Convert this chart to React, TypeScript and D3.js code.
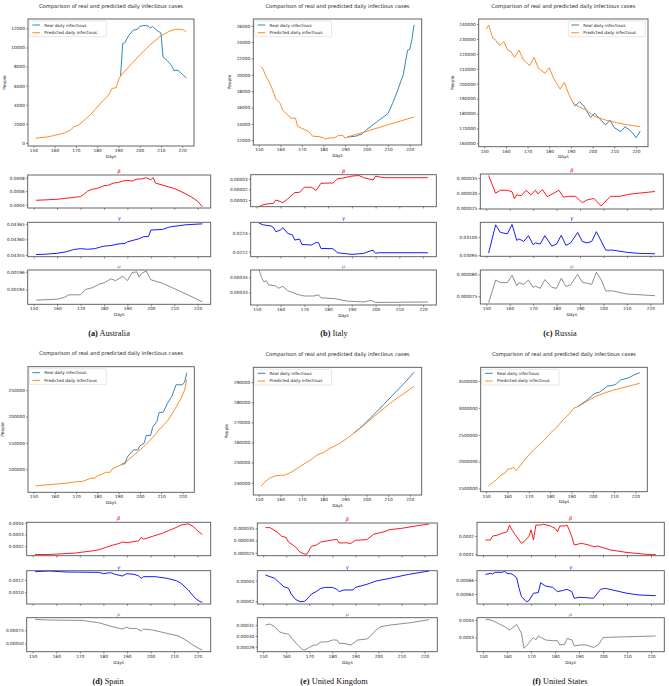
import React, { useEffect, useRef } from "react";
import * as d3 from "d3";

type Pt = [number, number];

// ---- data (day, value) ----
const DAY_LIM = [147.45, 225.55];
const DAY_TICKS = ["150", "160", "170", "180", "190", "200", "210", "220"];

// Australia
const ausPred: Pt[] = [[151,500],[153,560],[156,620],[158,700],[160,800],[163,950],[165,1100],[167,1300],[168,1450],[169,1700],[171,1850],[173,2200],[175,2600],[177,3000],[179,3500],[181,4000],[183,4500],[185,4900],[186,5300],[187,5700],[189,5800],[190,6600],[191,7000],[195,8000],[200,9200],[205,10300],[210,11200],[214,11700],[217,11900],[219,11900],[221,11800],[222,11600]];
const ausReal: Pt[] = [[191,7000],[192,10400],[193,10500],[195,11300],[197,11800],[199,11900],[200,12200],[202,12300],[204,12250],[205,12000],[206,12200],[208,11800],[210,11500],[211,9000],[213,8600],[215,8100],[216,7600],[218,7600],[220,7200],[222,6800]];
const ausBeta: Pt[] = [[151,0.000465],[160,0.00048],[165,0.0005],[170,0.00052],[171,0.00054],[173,0.0006],[175,0.00063],[177,0.00064],[180,0.00068],[182,0.00069],[184,0.00072],[186,0.00073],[188,0.00075],[190,0.00076],[192,0.00075],[194,0.00078],[196,0.00078],[198,0.0008],[200,0.00077],[201,0.0008],[202,0.00072],[205,0.00069],[210,0.00064],[215,0.00056],[218,0.0005],[220,0.00045],[222,0.00037]];
const ausGamma: Pt[] = [[151,0.043551],[155,0.043552],[160,0.043555],[164,0.04356],[167,0.043567],[170,0.04357],[173,0.043568],[176,0.04357],[178,0.043574],[180,0.043578],[183,0.04358],[186,0.043585],[189,0.043587],[190,0.043592],[193,0.043598],[195,0.043602],[197,0.043609],[199,0.043609],[200,0.04363],[205,0.043632],[208,0.04364],[215,0.043647],[222,0.04365]];
const ausMu: Pt[] = [[151,0.001928],[160,0.001929],[163,0.001931],[165,0.001934],[170,0.001934],[172,0.00194],[175,0.001942],[178,0.001946],[180,0.0019475],[183,0.001952],[185,0.00195],[188,0.001955],[190,0.00195],[192,0.001959],[194,0.00196],[195,0.001954],[196,0.001958],[198,0.001961],[200,0.001951],[205,0.001947],[210,0.001941],[215,0.001935],[222,0.001926]];
const ausPeopleTicks = ["0", "2000", "4000", "6000", "8000", "10000", "12000"];
const ausBetaTicks = ["0.0004", "0.0006", "0.0008"];
const ausGammaTicks = ["0.04355", "0.04360", "0.04365"];
const ausMuTicks = ["0.00194", "0.00196"];

// Italy
const itaPred: Pt[] = [[151,21000],[152,20700],[153,20000],[155,19000],[156,18400],[158,17000],[160,16500],[161,15700],[163,15200],[165,14700],[167,14700],[168,13700],[170,13450],[173,13100],[175,12500],[178,12450],[180,12300],[181,12150],[183,12300],[185,12300],[187,12600],[189,12600],[190,12250],[191,12400],[200,13100],[210,13900],[222,14850]];
const itaReal: Pt[] = [[191,12400],[195,12500],[198,12800],[200,13300],[203,13900],[205,14300],[208,14900],[210,15300],[212,16500],[214,17800],[216,19300],[217,20000],[219,23000],[220,23100],[221,24300],[222,26100]];
const itaBeta: Pt[] = [[151,0.0000037],[152,0.000005],[154,0.0000062],[157,0.0000068],[158,0.00001],[160,0.0000085],[161,0.0000075],[163,0.000011],[164,0.000013],[166,0.000017],[168,0.0000172],[170,0.000022],[173,0.000022],[175,0.000019],[177,0.0000257],[182,0.000026],[184,0.00003],[186,0.0000305],[190,0.0000325],[193,0.000033],[195,0.000031],[199,0.0000288],[200,0.0000325],[203,0.000031],[222,0.000031]];
const itaGamma: Pt[] = [[151,0.022509],[153,0.022491],[156,0.02248],[157,0.022465],[158,0.022418],[160,0.022436],[161,0.022462],[163,0.0224],[165,0.022382],[166,0.022327],[168,0.022338],[169,0.02228],[173,0.022273],[175,0.022302],[176,0.022298],[177,0.022236],[182,0.022233],[184,0.022189],[190,0.022171],[195,0.022182],[198,0.022211],[199,0.022215],[200,0.022182],[201,0.022189],[222,0.022189]];
const itaMu: Pt[] = [[151,0.0003449],[152,0.00034],[153,0.000337],[154,0.0003378],[155,0.0003349],[158,0.0003344],[159,0.0003327],[161,0.000334],[163,0.0003311],[165,0.00033],[167,0.0003287],[170,0.0003276],[174,0.0003276],[176,0.0003284],[177,0.0003264],[183,0.0003258],[188,0.0003242],[195,0.0003236],[198,0.0003247],[200,0.0003233],[222,0.0003236]];
const itaPeopleTicks = ["12000", "14000", "16000", "18000", "20000", "22000", "24000", "26000"];
const itaBetaTicks = ["0.00001", "0.00002", "0.00003"];
const itaGammaTicks = ["0.0222", "0.0224"];
const itaMuTicks = ["0.00033", "0.00034"];

// Russia
const rusPred: Pt[] = [[151,236600],[152,239300],[154,230400],[155,229700],[157,225500],[159,228200],[161,222100],[162,222100],[164,217700],[166,222600],[168,216000],[171,212100],[173,217700],[175,210300],[178,206900],[180,210700],[182,203600],[185,196400],[187,200900],[189,192800],[191,187300],[192,185700],[197,182300],[201,178000],[206,175600],[211,173900],[215,172700],[222,171200]];
const rusReal: Pt[] = [[191,187300],[192,185000],[194,187900],[196,185000],[199,177400],[201,180100],[203,176800],[206,172300],[208,175600],[210,170500],[213,167800],[215,171200],[218,167800],[220,163800],[222,168300]];
const rusBeta: Pt[] = [[151,0.0000359],[154,0.00003],[156,0.000031],[159,0.000031],[161,0.0000305],[162,0.0000282],[163,0.0000295],[165,0.0000292],[167,0.000031],[169,0.0000295],[171,0.000031],[172,0.0000298],[174,0.0000312],[176,0.0000289],[178,0.0000297],[181,0.000031],[183,0.0000287],[185,0.000029],[188,0.000029],[191,0.0000269],[193,0.0000278],[196,0.0000283],[199,0.0000258],[203,0.000029],[207,0.000029],[211,0.0000297],[222,0.0000306]];
const rusGamma: Pt[] = [[151,0.030956],[154,0.031034],[156,0.031013],[159,0.031009],[161,0.031035],[163,0.030991],[164,0.030995],[166,0.030988],[168,0.031004],[170,0.030979],[171,0.030984],[173,0.030981],[175,0.031004],[178,0.030975],[180,0.030981],[182,0.031005],[184,0.030977],[186,0.030984],[189,0.031013],[191,0.030988],[193,0.030984],[195,0.030988],[197,0.031015],[201,0.030964],[204,0.030964],[210,0.030958],[215,0.030955],[222,0.030954]];
const rusMu: Pt[] = [[151,0.0000735],[154,0.0000787],[156,0.0000781],[159,0.0000781],[161,0.0000798],[163,0.0000774],[164,0.0000781],[166,0.0000777],[168,0.0000787],[170,0.000077],[171,0.0000773],[173,0.0000768],[175,0.0000788],[178,0.000077],[180,0.0000768],[182,0.0000791],[184,0.0000772],[186,0.0000776],[189,0.00008],[191,0.0000782],[195,0.0000777],[197,0.0000805],[199,0.0000788],[201,0.0000762],[204,0.0000762],[210,0.0000755],[222,0.0000751]];
const rusPeopleTicks = ["160000", "170000", "180000", "190000", "200000", "210000", "220000", "230000", "240000"];
const rusBetaTicks = ["0.000025", "0.000030", "0.000035"];
const rusGammaTicks = ["0.03095", "0.03100"];
const rusMuTicks = ["0.000075", "0.000080"];

// Spain
const espPred: Pt[] = [[151,68400],[155,70000],[161,72000],[166,74000],[171,76600],[173,77000],[177,82900],[179,83500],[180,88000],[182,90000],[184,94300],[186,94300],[187,100600],[191,108200],[194,115800],[197,126000],[200,136700],[203,147500],[206,160100],[209,174700],[213,191800],[216,210800],[219,232000],[221,250000],[222,270000]];
const espReal: Pt[] = [[191,108200],[192,110000],[193,110100],[194,122800],[197,136700],[199,136700],[200,144300],[202,149400],[203,163900],[205,163900],[206,179700],[208,190500],[209,207600],[211,208200],[213,225300],[215,238000],[217,260100],[220,260100],[221,265000],[222,283000]];
const espBeta: Pt[] = [[151,0.00013],[157,0.00013],[160,0.000134],[168,0.000142],[171,0.00015],[175,0.00016],[178,0.00017],[181,0.00019],[184,0.00021],[187,0.000225],[188,0.000236],[190,0.00023],[193,0.00024],[195,0.000245],[196,0.000275],[197,0.00026],[201,0.000285],[205,0.00031],[208,0.000335],[211,0.00036],[213,0.00038],[216,0.00039],[218,0.00037],[220,0.00033],[222,0.0003]];
const espGamma: Pt[] = [[151,0.001335],[157,0.001346],[164,0.00133],[178,0.001324],[180,0.001303],[183,0.001319],[185,0.001292],[188,0.001265],[190,0.001303],[193,0.001292],[195,0.001265],[196,0.001227],[197,0.001254],[202,0.001254],[207,0.001227],[211,0.001189],[213,0.001146],[216,0.001038],[219,0.000903],[221,0.000849],[222,0.000838]];
const espMu: Pt[] = [[151,0.000962],[157,0.000949],[171,0.000942],[178,0.000897],[184,0.00082],[188,0.000776],[190,0.000814],[191,0.000788],[194,0.000788],[196,0.000737],[197,0.000776],[201,0.000756],[207,0.000692],[212,0.000641],[215,0.000564],[218,0.000468],[221,0.000391],[222,0.000372]];
const espPeopleTicks = ["100000", "150000", "200000", "250000"];
const espBetaTicks = ["0.0002", "0.0003", "0.0004"];
const espGammaTicks = ["0.0010", "0.0012"];
const espMuTicks = ["0.00050", "0.00075"];

// United Kingdom
const gbrPred: Pt[] = [[151,238300],[153,240500],[155,242200],[158,243500],[160,243700],[162,243700],[164,244700],[166,245800],[169,248000],[172,250000],[174,251300],[177,253800],[180,255000],[183,257100],[187,259300],[191,262100],[194,264600],[198,268000],[203,272500],[208,277000],[212,280500],[217,284200],[222,288000]];
const gbrReal: Pt[] = [[194,264600],[198,268200],[203,273500],[208,279000],[212,283500],[217,289000],[222,295000]];
const gbrBeta: Pt[] = [[151,0.0000353],[153,0.0000353],[156,0.0000335],[158,0.0000318],[160,0.0000312],[161,0.0000294],[164,0.0000274],[166,0.0000253],[168,0.0000244],[169,0.0000245],[171,0.0000277],[173,0.0000281],[175,0.0000294],[179,0.0000301],[182,0.0000305],[183,0.000029],[186,0.0000291],[188,0.0000288],[190,0.0000301],[195,0.0000304],[198,0.0000326],[202,0.0000335],[205,0.0000345],[210,0.000035],[215,0.0000358],[222,0.0000368]];
const gbrGamma: Pt[] = [[151,0.0000455],[153,0.0000439],[155,0.0000423],[157,0.0000381],[159,0.0000342],[161,0.0000326],[162,0.0000277],[164,0.0000219],[166,0.0000197],[168,0.00002],[170,0.0000245],[171,0.0000271],[173,0.0000294],[175,0.0000326],[177,0.0000335],[180,0.0000335],[182,0.0000316],[183,0.0000294],[185,0.000031],[189,0.000031],[190,0.0000335],[195,0.0000365],[199,0.0000397],[205,0.0000423],[213,0.0000461],[222,0.0000494]];
const gbrMu: Pt[] = [[151,0.00031],[152,0.0003106],[153,0.0003109],[155,0.0003085],[157,0.0003038],[159,0.0003023],[161,0.0003017],[163,0.0002962],[165,0.0002915],[167,0.0002875],[168,0.0002869],[170,0.0002894],[172,0.0002915],[173,0.0002915],[175,0.0002943],[178,0.0002946],[180,0.0002962],[182,0.0002962],[183,0.0002931],[185,0.0002931],[188,0.0002915],[191,0.0002962],[195,0.0002971],[197,0.0003008],[199,0.0003054],[201,0.0003085],[205,0.00031],[214,0.0003122],[222,0.000315]];
const gbrPeopleTicks = ["240000", "250000", "260000", "270000", "280000", "290000"];
const gbrBetaTicks = ["0.000025", "0.000030", "0.000035"];
const gbrGammaTicks = ["0.00002", "0.00004"];
const gbrMuTicks = ["0.00029", "0.00030", "0.00031"];

// United States
const usaPred: Pt[] = [[151,1549700],[153,1605600],[155,1667700],[157,1748400],[159,1792000],[160,1854000],[161,1860000],[163,1890000],[164,1830000],[165,1873000],[167,1978000],[170,2121000],[173,2245000],[177,2388000],[180,2525000],[183,2637000],[186,2773000],[189,2885000],[191,2991000],[193,3022000],[197,3115000],[201,3208000],[206,3283000],[211,3345000],[216,3394000],[222,3457000]];
const usaReal: Pt[] = [[193,3022000],[194,3053000],[197,3134000],[200,3239000],[201,3270000],[203,3289000],[205,3345000],[207,3407000],[209,3413000],[211,3444000],[213,3519000],[216,3550000],[217,3562000],[219,3606000],[222,3655000]];
const usaBeta: Pt[] = [[151,0.000178],[153,0.000178],[154,0.0002],[156,0.000205],[158,0.000215],[160,0.000223],[161,0.00026],[162,0.000233],[164,0.000196],[166,0.00016],[167,0.000169],[169,0.000196],[170,0.000233],[171,0.000178],[172,0.00026],[174,0.00026],[175,0.000265],[178,0.000255],[180,0.000242],[181,0.000223],[182,0.000255],[184,0.000255],[185,0.00026],[186,0.00023],[187,0.000196],[188,0.000151],[191,0.00016],[194,0.000151],[196,0.000142],[198,0.000145],[203,0.000124],[210,0.00011],[218,0.0001],[222,0.000098]];
const usaGamma: Pt[] = [[151,0.000668],[153,0.0006695],[154,0.0006686],[155,0.000671],[158,0.000671],[159,0.0006724],[160,0.0006695],[162,0.0006686],[164,0.0006633],[165,0.0006481],[166,0.0006362],[168,0.000629],[169,0.00063],[171,0.000641],[173,0.000642],[174,0.0006562],[176,0.0006514],[179,0.0006495],[181,0.0006433],[183,0.0006448],[185,0.0006467],[187,0.0006433],[188,0.0006338],[190,0.0006352],[193,0.0006348],[196,0.0006338],[199,0.0006467],[201,0.0006481],[204,0.0006457],[210,0.000641],[215,0.0006386],[222,0.0006376]];
const usaMu: Pt[] = [[151,0.0004],[152,0.000404],[154,0.000396],[157,0.000375],[159,0.000362],[161,0.000342],[162,0.000352],[164,0.000375],[166,0.000323],[167,0.000237],[169,0.000265],[170,0.000285],[171,0.000298],[172,0.000285],[173,0.000308],[176,0.000285],[179,0.000281],[181,0.000281],[182,0.000256],[184,0.00026],[185,0.000294],[187,0.000285],[188,0.00025],[190,0.000256],[193,0.000256],[196,0.000242],[198,0.000256],[200,0.000298],[201,0.0003],[222,0.000308]];
const usaPeopleTicks = ["1500000", "2000000", "2500000", "3000000", "3500000"];
const usaBetaTicks = ["0.0001", "0.0002"];
const usaGammaTicks = ["0.00064", "0.00066"];
const usaMuTicks = ["0.0003", "0.0004"];

// ---- styling ----
const FONT = "'DejaVu Sans', sans-serif";
const BLUE = "#1f77b4";
const ORANGE = "#ff7f0e";
const FRAME = "#555";
const INK = "#1a1a1a";
const TICK_FS = 4.3;
const TITLE = "Comparison of real and predicted daily infectious cases";

type Box = { x0: number; x1: number; y0: number; y1: number };

function Axis({ scale, side, ticks, x, y, labels }: any) {
  const ref = useRef<SVGGElement>(null);
  useEffect(() => {
    const ax = side === "left" ? d3.axisLeft(scale) : d3.axisBottom(scale);
    ax.tickValues(ticks.map(Number))
      .tickFormat((_d: any, i: number) => ticks[i])
      .tickSizeOuter(0)
      .tickSize(1.8)
      .tickPadding(1.2);
    const g = d3.select(ref.current);
    g.call(ax as any);
    g.select(".domain").remove();
    g.selectAll("line").attr("stroke", FRAME).attr("stroke-width", 0.7);
    if (labels) {
      g.selectAll("text")
        .attr("font-family", FONT)
        .attr("font-size", TICK_FS)
        .attr("fill", INK);
    } else {
      // shared x axis: keep the tick marks only
      g.selectAll(".tick text").remove();
    }
  });
  return <g ref={ref} transform={`translate(${x},${y})`} />;
}

function MainChart({ box, lim, ticks, real, pred, legendRight, yLabelX }: any) {
  const b: Box = box;
  const xs = d3.scaleLinear().domain(DAY_LIM).range([b.x0, b.x1]);
  const ys = d3.scaleLinear().domain(lim).range([b.y1, b.y0]);
  const line = d3.line<Pt>().x((d) => xs(d[0])).y((d) => ys(d[1]));
  const cx = (b.x0 + b.x1) / 2;
  const lw = 77, lh = 15.7;
  const lx = legendRight ? b.x1 - 2.7 - lw : b.x0 + 1.3;
  const ly = b.y0 + 2;
  return (
    <g>
      <text x={cx} y={b.y0 - 11.5} textAnchor="middle" fontSize={5.2} fontFamily={FONT} fill={INK}>{TITLE}</text>
      <path d={line(real) || ""} fill="none" stroke={BLUE} strokeWidth={0.9} />
      <path d={line(pred) || ""} fill="none" stroke={ORANGE} strokeWidth={0.9} />
      <rect x={b.x0} y={b.y0} width={b.x1 - b.x0} height={b.y1 - b.y0} fill="none" stroke={FRAME} strokeWidth={0.9} />
      <Axis scale={ys} side="left" ticks={ticks} x={b.x0} y={0} labels={true} />
      <Axis scale={xs} side="bottom" ticks={DAY_TICKS} x={0} y={b.y1} labels={true} />
      <text x={cx} y={b.y1 + 11.5} textAnchor="middle" fontSize={TICK_FS} fontFamily={FONT} fill={INK}>Days</text>
      {yLabelX != null && (
        <text transform={`translate(${yLabelX},${(b.y0 + b.y1) / 2}) rotate(-90)`} textAnchor="middle" fontSize={TICK_FS} fontFamily={FONT} fill={INK}>People</text>
      )}
      <g transform={`translate(${lx},${ly})`}>
        <rect width={lw} height={lh} rx={1.2} fill="white" fillOpacity={0.8} stroke="#cfcfcf" strokeWidth={0.5} />
        <line x1={3} x2={10.7} y1={4} y2={4} stroke={BLUE} strokeWidth={0.9} />
        <line x1={3} x2={10.7} y1={11.7} y2={11.7} stroke={ORANGE} strokeWidth={0.9} />
        <text x={15} y={5.5} fontSize={4.2} fontFamily={FONT} fill={INK}>Real daily infectious</text>
        <text x={15} y={13.2} fontSize={4.2} fontFamily={FONT} fill={INK}>Predicted daily infectious</text>
      </g>
    </g>
  );
}

function ParamChart({ x0, x1, y0, y1, lim, ticks, data, color, symbol, bottom }: any) {
  const xs = d3.scaleLinear().domain(DAY_LIM).range([x0, x1]);
  const ys = d3.scaleLinear().domain(lim).range([y1, y0]);
  const line = d3.line<Pt>().x((d) => xs(d[0])).y((d) => ys(d[1]));
  const showX = !!bottom;
  return (
    <g>
      <text x={(x0 + x1) / 2} y={y0 - 2.2} textAnchor="middle" fontSize={5} fontStyle="italic" fontFamily={FONT} fill={color}>{symbol}</text>
      <path d={line(data) || ""} fill="none" stroke={color} strokeWidth={0.9} />
      <rect x={x0} y={y0} width={x1 - x0} height={y1 - y0} fill="none" stroke={FRAME} strokeWidth={0.9} />
      <Axis scale={ys} side="left" ticks={ticks} x={x0} y={0} labels={true} />
      <Axis scale={xs} side="bottom" ticks={DAY_TICKS} x={0} y={y1} labels={showX} />
      {showX && (
        <text x={(x0 + x1) / 2} y={y1 + 12} textAnchor="middle" fontSize={TICK_FS} fontFamily={FONT} fill={INK}>Days</text>
      )}
    </g>
  );
}

function Panel({ tag, name, main, yLabelX, legendRight, people, sx, rows, beta, gamma, mu, capX, capY }: any) {
  return (
    <g>
      <MainChart box={main} lim={people.lim} ticks={people.ticks} real={people.real} pred={people.pred} legendRight={legendRight} yLabelX={yLabelX} />
      <ParamChart x0={sx[0]} x1={sx[1]} y0={rows[0][0]} y1={rows[0][1]} lim={beta.lim} ticks={beta.ticks} data={beta.data} color="#ff0000" symbol="β" bottom={false} />
      <ParamChart x0={sx[0]} x1={sx[1]} y0={rows[1][0]} y1={rows[1][1]} lim={gamma.lim} ticks={gamma.ticks} data={gamma.data} color="#0000ff" symbol="γ" bottom={false} />
      <ParamChart x0={sx[0]} x1={sx[1]} y0={rows[2][0]} y1={rows[2][1]} lim={mu.lim} ticks={mu.ticks} data={mu.data} color="#808080" symbol="μ" bottom={true} />
      <text x={capX} y={capY} textAnchor="middle" fontSize={8.3} fontFamily="'Liberation Serif', 'Times New Roman', serif" fill="#111">
        <tspan fontWeight="bold">({tag})</tspan> {name}
      </text>
    </g>
  );
}

export default function App() {
  const topRows = [[175, 208], [222.3, 256.7], [270, 304.3]];
  const botRows = [[522.3, 555.7], [570.7, 604], [617.7, 651.7]];
  return (
    <svg width={669} height={686} style={{ position: "absolute", left: 0, top: 0, background: "white" }}>
      <Panel tag="a" name="Australia" main={{ x0: 28, x1: 194, y0: 19, y1: 146 }} yLabelX={5.5}
        people={{ lim: [-314, 12971], ticks: ausPeopleTicks, real: ausReal, pred: ausPred }}
        sx={[27.7, 210.7]} rows={topRows}
        beta={{ lim: [0.000351, 0.00084], ticks: ausBetaTicks, data: ausBeta }}
        gamma={{ lim: [0.043544, 0.043655], ticks: ausGammaTicks, data: ausGamma }}
        mu={{ lim: [0.0019233, 0.001962], ticks: ausMuTicks, data: ausMu }}
        capX={109} capY={335.5} />
      <Panel tag="b" name="Italy" main={{ x0: 253.3, x1: 421.7, y0: 19, y1: 145 }} yLabelX={231}
        people={{ lim: [11426, 26818], ticks: itaPeopleTicks, real: itaReal, pred: itaPred }}
        sx={[250.7, 436.3]} rows={[[174.7, 206.7], [222.3, 256.7], [270, 305]]}
        beta={{ lim: [0.0000037, 0.0000338], ticks: itaBetaTicks, data: itaBeta }}
        gamma={{ lim: [0.022146, 0.02252], ticks: itaGammaTicks, data: itaGamma }}
        mu={{ lim: [0.0003216, 0.0003449], ticks: itaMuTicks, data: itaMu }}
        capX={334} capY={335.5} />
      <Panel tag="c" name="Russia" main={{ x0: 478.7, x1: 648, y0: 19, y1: 146.7 }} yLabelX={454} legendRight
        people={{ lim: [157765, 243350], ticks: rusPeopleTicks, real: rusReal, pred: rusPred }}
        sx={[480.3, 663.3]} rows={[[174, 209], [222.3, 256.3], [270, 304]]}
        beta={{ lim: [0.0000248, 0.0000364], ticks: rusBetaTicks, data: rusBeta }}
        gamma={{ lim: [0.030947, 0.031041], ticks: rusGammaTicks, data: rusGamma }}
        mu={{ lim: [0.0000732, 0.000081], ticks: rusMuTicks, data: rusMu }}
        capX={560} capY={335.5} />
      <Panel tag="d" name="Spain" main={{ x0: 28, x1: 194.3, y0: 366.7, y1: 492.3 }} yLabelX={3.5}
        people={{ lim: [56330, 294300], ticks: espPeopleTicks, real: espReal, pred: espPred }}
        sx={[26.7, 210.7]} rows={botRows}
        beta={{ lim: [0.00012, 0.000403], ticks: espBetaTicks, data: espBeta }}
        gamma={{ lim: [0.00081, 0.001351], ticks: espGammaTicks, data: espGamma }}
        mu={{ lim: [0.00034, 0.000994], ticks: espMuTicks, data: espMu }}
        capX={108} capY={683.5} />
      <Panel tag="e" name="United Kingdom" main={{ x0: 253.3, x1: 421.7, y0: 367.3, y1: 495 }} yLabelX={228}
        people={{ lim: [233850, 297470], ticks: gbrPeopleTicks, real: gbrReal, pred: gbrPred }}
        sx={[257.3, 437.3]} rows={[[523, 555.7], [570.7, 604], [617.7, 651.7]]}
        beta={{ lim: [0.0000238, 0.0000372], ticks: gbrBetaTicks, data: gbrBeta }}
        gamma={{ lim: [0.0000174, 0.0000497], ticks: gbrGammaTicks, data: gbrGamma }}
        mu={{ lim: [0.0002854, 0.0003168], ticks: gbrMuTicks, data: gbrMu }}
        capX={334} capY={683.5} />
      <Panel tag="f" name="United States" main={{ x0: 480.7, x1: 647.3, y0: 367.3, y1: 491.7 }} yLabelX={null}
        people={{ lim: [1437900, 3754700], ticks: usaPeopleTicks, real: usaReal, pred: usaPred }}
        sx={[477, 664.3]} rows={botRows}
        beta={{ lim: [0.0000924, 0.000275], ticks: usaBetaTicks, data: usaBeta }}
        gamma={{ lim: [0.0006257, 0.0006733], ticks: usaGammaTicks, data: usaGamma }}
        mu={{ lim: [0.0002173, 0.0004135], ticks: usaMuTicks, data: usaMu }}
        capX={560} capY={683.5} />
    </svg>
  );
}
